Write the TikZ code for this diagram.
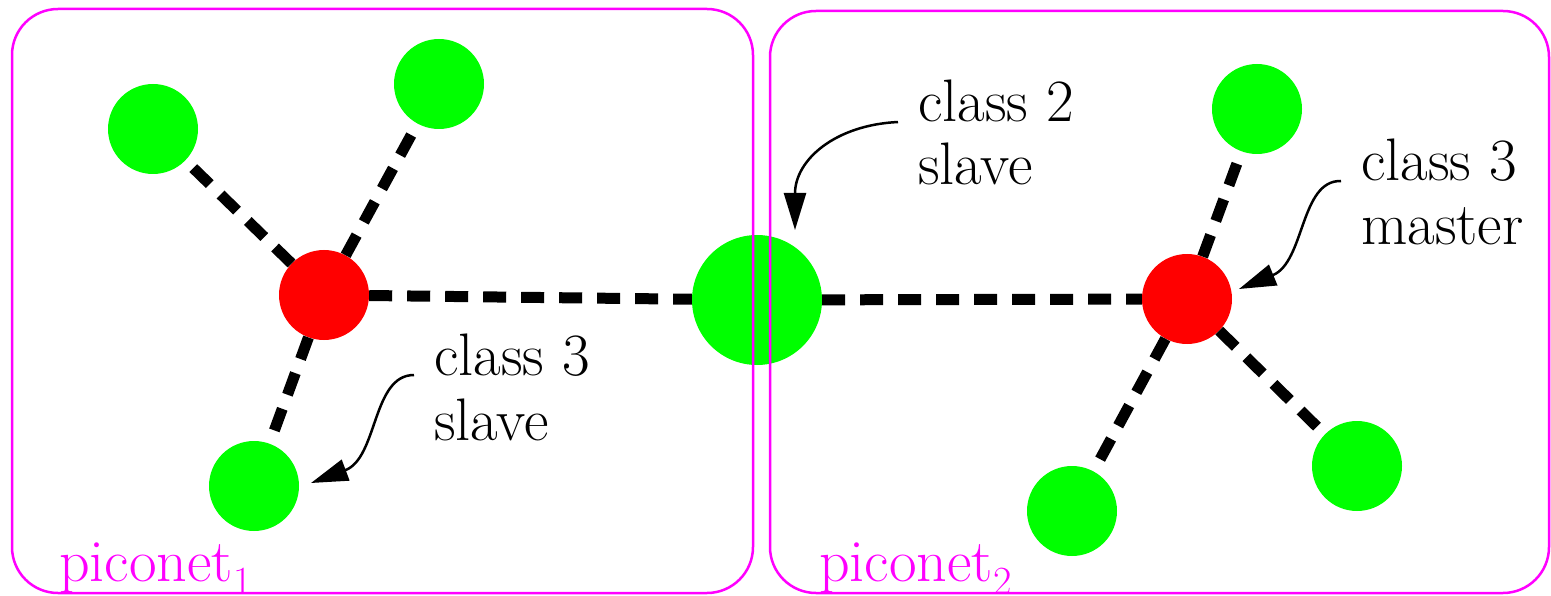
\documentclass[tikz,border=0pt]{standalone}
\usepackage{fontspec}
\usetikzlibrary{arrows.meta}
\definecolor{pgreen}{RGB}{0,255,0}
\definecolor{pred}{RGB}{255,0,0}
\definecolor{pmag}{RGB}{255,0,255}
\newcommand{\netsub}[1]{\raisebox{-13pt}{\fontsize{40}{40}\selectfont #1}}
\begin{document}
\begin{tikzpicture}[x=1pt,y=-1pt,
  dev/.style={circle,fill=pgreen,minimum size=90pt,inner sep=0pt},
  bigdev/.style={circle,fill=pgreen,minimum size=130pt,inner sep=0pt},
  master/.style={circle,fill=pred,minimum size=90pt,inner sep=0pt},
  link/.style={line width=11pt,dash pattern=on 23pt off 15pt},
  net/.style={draw=pmag,line width=2.5pt,rounded corners=46pt},
  lbl/.style={font=\fontsize{60}{60}\selectfont,inner sep=0pt,anchor=base west},
  netlbl/.style={lbl,text=pmag},
  callout/.style={line width=2.5pt,-{Triangle[length=37pt,width=22pt]}}]
\useasboundingbox (0,0) rectangle (1551,596);
% devices
\node[dev] (A) at (153,129) {};
\node[dev] (B) at (439,84) {};
\node[dev] (C) at (254,486) {};
\node[master] (R1) at (324,295) {};
\node[bigdev] (G) at (757,300) {};
\node[master] (R2) at (1187,299) {};
\node[dev] (D) at (1257,109) {};
\node[dev] (E) at (1357,466) {};
\node[dev] (F) at (1072,511) {};
% piconet boxes
\draw[net] (12,9) rectangle (753,593);
\draw[net] (770,11) rectangle (1549,593);
% links
\draw[link] (R1) -- (A);
\draw[link] (R1) -- (B);
\draw[link] (R1) -- (C);
\draw[link] (R1) -- (G);
\draw[link] (G) -- (R2);
\draw[link] (R2) -- (D);
\draw[link] (R2) -- (E);
\draw[link] (R2) -- (F);
% labels
\node[lbl] (c2a) at (918,122) {class 2};
\node[lbl] (c2b) at (918,185) {slave};
\node[lbl] (c3a) at (1361,181) {class 3};
\node[lbl] (c3b) at (1361,245) {master};
\node[lbl] (s3a) at (434,375) {class 3};
\node[lbl] (s3b) at (434,440) {slave};
\node[netlbl] (p1) at (59,581) {piconet\netsub{1}};
\node[netlbl] (p2) at (819,581) {piconet\netsub{2}};
% callouts
\coordinate (t2) at (795,230);
\coordinate (t3m) at (1239,289);
\coordinate (t3s) at (311,483);
\draw[callout] ([xshift=-20pt]c2a.base west) .. controls (835,125) and (795,160) .. (t2);
\draw[callout] ([xshift=-20pt]c3a.base west) .. controls (1300,180) and (1305,262) .. (t3m);
\draw[callout] ([xshift=-20pt]s3a.base west) .. controls (372,375) and (378,458) .. (t3s);
\end{tikzpicture}
\end{document}
